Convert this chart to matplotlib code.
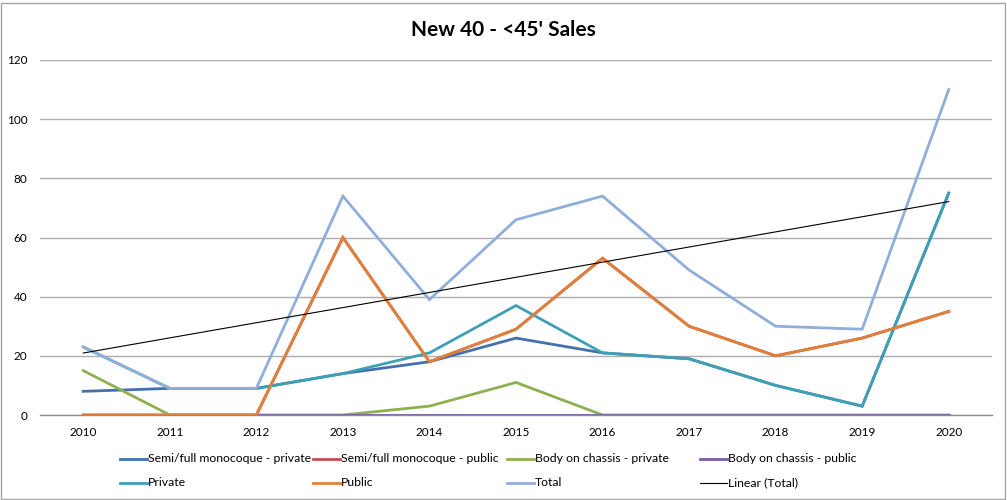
import numpy as np
import matplotlib.pyplot as plt
from matplotlib.lines import Line2D
from matplotlib.patches import Rectangle

plt.rcParams['font.family'] = ['Lato', 'DejaVu Sans']

years = [2010, 2011, 2012, 2013, 2014, 2015, 2016, 2017, 2018, 2019, 2020]
semi_private = [8, 9, 9, 14, 18, 26, 21, 19, 10, 3, 75]
semi_public = [0, 0, 0, 60, 18, 29, 53, 30, 20, 26, 35]
body_private = [15, 0, 0, 0, 3, 11, 0, 0, 0, 0, 0]
body_public = [0, 0, 0, 0, 0, 0, 0, 0, 0, 0, 0]
private = [23, 9, 9, 14, 21, 37, 21, 19, 10, 3, 75]
public = [0, 0, 0, 60, 18, 29, 53, 30, 20, 26, 35]
total = [23, 9, 9, 74, 39, 66, 74, 49, 30, 29, 110]

series = [
    ("Semi/full monocoque - private", semi_private, "#4470B0"),
    ("Semi/full monocoque - public", semi_public, "#C0504D"),
    ("Body on chassis - private", body_private, "#8DB050"),
    ("Body on chassis - public", body_public, "#7B5EA0"),
    ("Private", private, "#3FA0B5"),
    ("Public", public, "#E0803A"),
    ("Total", total, "#90AEDB"),
]

fig = plt.figure(figsize=(10.07, 5.0), dpi=100)
W, H = 1007, 500
ax = fig.add_axes([40 / W, 1 - 415 / H, (992 - 40) / W, (415 - 60) / H])

x = np.arange(len(years))
for name, vals, col in series:
    ax.plot(x, vals, color=col, lw=2.0, solid_joinstyle='miter', zorder=3)

# linear trendline of total, as Excel computes it
k, b = np.polyfit(x, total, 1)
ax.plot(x, k * x + b, color='black', lw=0.8, zorder=4)

ax.set_xlim(-0.5, len(years) - 0.5)
ax.set_ylim(0, 120)
ax.set_yticks(range(0, 121, 20))
ax.set_xticks(x)
ax.set_xticklabels(years)
ax.tick_params(axis='both', length=0, labelsize=8.5, colors='black')
ax.tick_params(axis='y', pad=9)
ax.tick_params(axis='x', pad=9)
ax.grid(axis='y', color='#ADADAD', lw=1.0)
ax.set_axisbelow(True)
for s in ['top', 'left', 'right']:
    ax.spines[s].set_visible(False)
ax.spines['bottom'].set_color('#8C8C8C')
ax.spines['bottom'].set_linewidth(1.0)

fig.text(0.5, 1 - 30 / H, "New 40 - <45' Sales", ha='center', va='center',
         fontsize=15, fontweight='bold')

# legend, Excel style: 4 equal columns, 2 rows
labels = [s[0] for s in series] + ["Linear (Total)"]
colors = [s[2] for s in series] + ["black"]
col_x = [120, 313, 507, 700]
row_y = [459, 483]
for i, (lab, col) in enumerate(zip(labels, colors)):
    cx = col_x[i % 4]
    cy = row_y[i // 4]
    lw = 0.8 if lab.startswith("Linear") else 2.0
    fig.add_artist(Line2D([cx / W, (cx + 27) / W], [1 - cy / H, 1 - cy / H],
                          color=col, lw=lw, transform=fig.transFigure))
    fig.text((cx + 28) / W, 1 - cy / H, lab, ha='left', va='center', fontsize=8.8)

fig.add_artist(Rectangle((1 / W, 1 / H), 1 - 3 / W, 1 - 4 / H, fill=False,
                         edgecolor='#A6A6A6', lw=1.0, transform=fig.transFigure))

fig.savefig("out.png", dpi=100)
